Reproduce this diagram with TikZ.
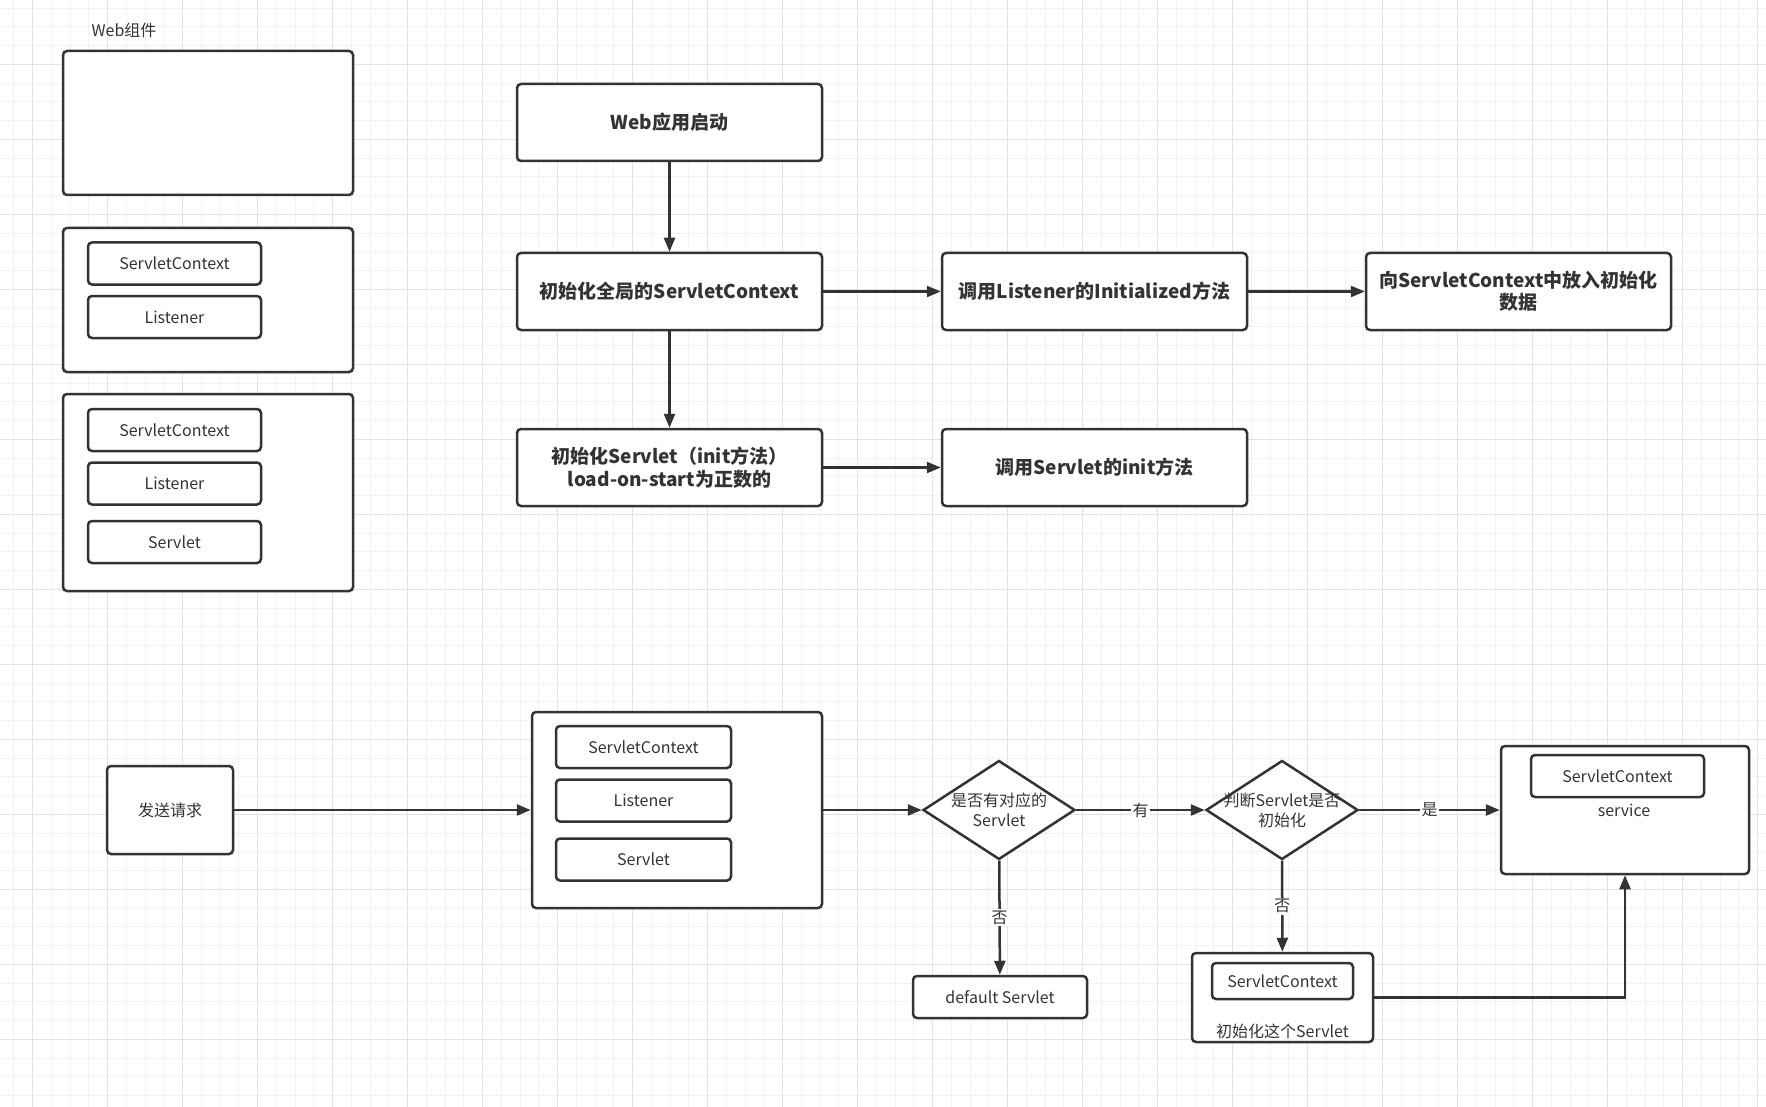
\documentclass[tikz,border=0pt]{standalone}
\usepackage{fontspec}
\setmainfont{Noto Sans CJK SC}
\usepackage{tikz}
\usetikzlibrary{shapes.geometric,arrows.meta,positioning}
\definecolor{linegray}{HTML}{333333}
\definecolor{gridminor}{HTML}{F2F2F2}
\definecolor{gridmajor}{HTML}{E3E3E3}
\tikzset{
  box/.style={draw=linegray,line width=2.5pt,rounded corners=4pt,fill=white,text=linegray,inner sep=0pt},
  bigbox/.style={box,minimum width=305pt,minimum height=77pt,align=center,font=\fontsize{19}{22.5}\selectfont\bfseries},
  smallbox/.style={box,minimum width=173pt,minimum height=42pt,font=\fontsize{16}{20}\selectfont},
  panel/.style={box,minimum width=290pt},
  decide/.style={diamond,draw=linegray,line width=2.5pt,fill=white,minimum width=152pt,minimum height=99pt,inner sep=0pt},
  flow/.style={draw=linegray,line width=2.5pt,-{Triangle[length=14pt,width=11pt]}},
  tag/.style={fill=white,text=linegray,inner sep=1.5pt,font=\fontsize{16}{20}\selectfont},
  plain/.style={text=linegray,align=center,inner sep=0pt,font=\fontsize{16}{20}\selectfont}
}

\begin{document}
\begin{tikzpicture}[x=1pt,y=-1pt]
  \useasboundingbox[fill=white] (0,0) rectangle (1766,1107);
  % background grid
  \foreach \gx in {13.95,32.7,...,1766} \draw[gridminor,line width=1pt] (\gx,0) -- (\gx,1107);
  \foreach \gy in {8.05,26.8,...,1107} \draw[gridminor,line width=1pt] (0,\gy) -- (1766,\gy);
  \foreach \gx in {32.7,107.7,...,1766} \draw[gridmajor,line width=1pt] (\gx,0) -- (\gx,1107);
  \foreach \gy in {64.3,139.3,...,1107} \draw[gridmajor,line width=1pt] (0,\gy) -- (1766,\gy);

  % web components
  \node[plain] (wctitle) at (124,30) {Web组件};
  \node[panel,minimum height=144pt] (wc1) at (208,123) {};
  \node[panel,minimum height=144pt] (wc2) at (208,300) {};
  \node[smallbox] (wc2ctx) at (174.5,263.5) {ServletContext};
  \node[smallbox] (wc2lsn) at (174.5,317) {Listener};
  \node[panel,minimum height=197pt] (wc3) at (208,492.5) {};
  \node[smallbox] (wc3ctx) at (174.5,430) {ServletContext};
  \node[smallbox] (wc3lsn) at (174.5,483.5) {Listener};
  \node[smallbox] (wc3svl) at (174.5,542) {Servlet};

  % startup
  \node[bigbox] (start) at (669.5,122.5) {Web应用启动};
  \node[bigbox,below=89.5pt of start] (ctx) {初始化全局的ServletContext};
  \node[bigbox,right=117.5pt of ctx] (lsn) {调用Listener的Initialized方法};
  \node[bigbox,right=116.5pt of lsn] (put) {向ServletContext中放入初始化\\数据};
  \node[bigbox,below=96.5pt of ctx] (svl) {初始化Servlet（init方法）\\load-on-start为正数的};
  \node[bigbox,right=117.5pt of svl] (init) {调用Servlet的init方法};
  \draw[flow] (start) -- (ctx);
  \draw[flow] (ctx) -- (lsn);
  \draw[flow] (lsn) -- (put);
  \draw[flow] (ctx) -- (svl);
  \draw[flow] (svl) -- (init);

  % request
  \node[box,minimum width=126pt,minimum height=88pt,font=\fontsize{16}{20}\selectfont] (req) at (170,810) {发送请求};
  \node[panel,minimum height=196pt] (cont) at (677,810) {};
  \node[smallbox,minimum width=175pt] (contctx) at (643.5,747) {ServletContext};
  \node[smallbox,minimum width=175pt] (contlsn) at (643.5,800.5) {Listener};
  \node[smallbox,minimum width=175pt] (contsvl) at (643.5,859.5) {Servlet};
  \node[decide,label={[plain]center:是否有对应的\\Servlet}] (q1) at (999,810) {};
  \node[decide,label={[plain]center:判断Servlet是否\\初始化}] (q2) at (1282,810) {};
  \node[smallbox,minimum width=174pt] (dflt) at (1000,997) {default Servlet};
  \node[box,minimum width=181pt,minimum height=89pt] (ini) at (1282.5,997.5) {};
  \node[smallbox,minimum width=141pt,minimum height=36pt] (inictx) at (1282.5,981) {ServletContext};
  \node[plain] (initext) at (1282.5,1031) {初始化这个Servlet};
  \node[box,minimum width=248pt,minimum height=128pt] (svc) at (1625,810) {};
  \node[smallbox] (svcctx) at (1617.5,776) {ServletContext};
  \node[plain] (svctext) at (1624,810) {service};
  \draw[flow] (req) -- (cont);
  \draw[flow] (cont) -- (q1);
  \draw[flow] (q1) -- node[tag] {有} (q2);
  \draw[flow] (q2) -- node[tag] {是} (svc);
  \draw[flow] (q1) -- node[tag] {否} (dflt);
  \draw[flow] (q2) -- node[tag] {否} (ini);
  \draw[flow] (ini) -| (svc);
\end{tikzpicture}
\end{document}
